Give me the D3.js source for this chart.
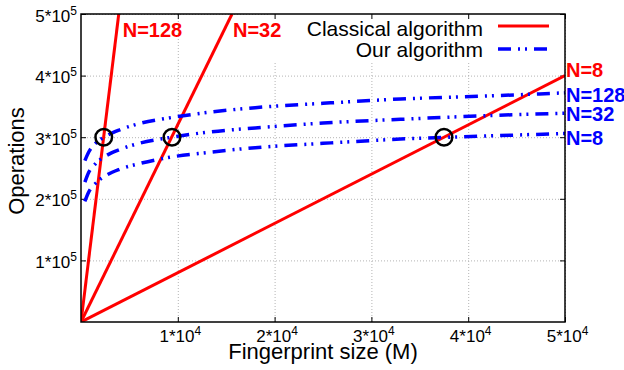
<!DOCTYPE html>
<html>
<head>
<meta charset="utf-8">
<script src="https://cdn.jsdelivr.net/npm/d3@7"></script>
<style>
  body { margin: 0; background: #fff; }
  svg { display: block; font-family: "Liberation Sans", Arial, Helvetica, sans-serif; }
</style>
</head>
<body>
<svg id="vis-svg"></svg>
<script>
const sizes   = [400, 800, 1500, 2500, 4000, 6000, 9000, 13000, 18000, 25000, 33000, 42000, 50000];
const ours128 = [262000, 276000, 290000, 301000, 312000, 322000, 331000, 340000, 348000, 355000, 362000, 367000, 372000];
const ours32  = [227000, 243000, 257000, 269000, 280000, 290000, 299000, 308000, 315000, 323000, 329000, 335000, 339000];
const ours8   = [196000, 211000, 225000, 237000, 248000, 257000, 267000, 275000, 283000, 290000, 297000, 302000, 306000];

// Classical algorithm: straight lines from the origin, end points where they leave the plot
const classicalNames  = ["N=128", "N=32", "N=8"];
const classicalEndM   = [3900, 15600, 50000];
const classicalEndOps = [500000, 500000, 400000];

// Circled crossing points
const crossM   = [2350, 9400, 37500];
const crossOps = [300000, 300000, 300000];

const xTickValues = [10000, 20000, 30000, 40000, 50000];
const yTickValues = [100000, 200000, 300000, 400000, 500000];

let margin = {top: 14, right: 59, bottom: 48, left: 81},
    width = 624 - margin.left - margin.right,
    height = 370 - margin.top - margin.bottom;

const red = "#ff0000", blue = "#0000ff";

const root = d3.select("#vis-svg")
    .attr("width", 624)
    .attr("height", 370);

const svg = root.append("g")
    .attr("transform", "translate(" + margin.left + "," + margin.top + ")");

const x = d3.scaleLinear().domain([0, 50000]).range([0, width]),
      y = d3.scaleLinear().domain([0, 500000]).range([height, 0]);

root.append("defs").append("clipPath")
    .attr("id", "plot-clip")
  .append("rect")
    .attr("width", width)
    .attr("height", height);

// Grid
svg.append("g")
    .attr("transform", "translate(0," + height + ")")
    .call(d3.axisBottom(x).tickValues(xTickValues).tickSize(-height).tickFormat(""))
    .call(g => g.select(".domain").remove())
    .selectAll("line")
    .attr("stroke", "#b4b4b4")
    .attr("stroke-dasharray", "1,2");

svg.append("g")
    .call(d3.axisLeft(y).tickValues(yTickValues).tickSize(-width).tickFormat(""))
    .call(g => g.select(".domain").remove())
    .selectAll("line")
    .attr("stroke", "#b4b4b4")
    .attr("stroke-dasharray", "1,2");

// Legend background hides the grid behind it
svg.append("rect")
    .attr("x", width - 296)
    .attr("y", 0)
    .attr("width", 296)
    .attr("height", 48)
    .attr("fill", "#fff");

// Ticks (inward, mirrored)
function supLabels(g, exp) {
    g.selectAll("text").each(function(d) {
        const t = d3.select(this).text(null);
        t.append("tspan").text((d / Math.pow(10, exp)) + "*10");
        t.append("tspan").attr("dy", "-7").attr("font-size", 12).text(exp);
    });
}

svg.append("g")
    .attr("transform", "translate(0," + height + ")")
    .call(d3.axisBottom(x).tickValues(xTickValues).tickSize(-5).tickPadding(8))
    .call(g => g.select(".domain").remove())
    .call(g => g.selectAll("text").attr("font-size", 17).attr("fill", "#000").attr("font-family", null).attr("dx", 2))
    .call(g => supLabels(g, 4));

svg.append("g")
    .call(d3.axisLeft(y).tickValues(yTickValues).tickSize(-5).tickPadding(4))
    .call(g => g.select(".domain").remove())
    .call(g => g.selectAll("text").attr("font-size", 17).attr("fill", "#000").attr("font-family", null).attr("dy", "0.42em"))
    .call(g => supLabels(g, 5));

svg.append("g")
    .call(d3.axisTop(x).tickValues(xTickValues).tickSize(-5).tickFormat(""))
    .call(g => g.select(".domain").remove());

svg.append("g")
    .attr("transform", "translate(" + width + ",0)")
    .call(d3.axisRight(y).tickValues(yTickValues).tickSize(-5).tickFormat(""))
    .call(g => g.select(".domain").remove());

// Classical algorithm lines
const plot = svg.append("g").attr("clip-path", "url(#plot-clip)");

plot.selectAll(".classical")
    .data(classicalEndM)
  .enter().append("line")
    .attr("class", "classical")
    .attr("x1", x(0))
    .attr("y1", y(0))
    .attr("x2", (d, i) => x(d))
    .attr("y2", (d, i) => y(classicalEndOps[i]))
    .attr("stroke", red)
    .attr("stroke-width", 3);

// Our algorithm curves
const oursSeries = [
    {name: "N=128", values: ours128, dy: 9},
    {name: "N=32", values: ours32, dy: 8},
    {name: "N=8", values: ours8, dy: 11}
];

const line = d3.line()
    .x((d, i) => x(sizes[i]))
    .y(d => y(d))
    .curve(d3.curveMonotoneX);

plot.selectAll(".ours")
    .data(oursSeries)
  .enter().append("path")
    .attr("class", "ours")
    .attr("d", d => line(d.values))
    .attr("fill", "none")
    .attr("stroke", blue)
    .attr("stroke-width", 3.5)
    .attr("stroke-dasharray", "13,7,2,5,2,7");

// Crossing circles
svg.selectAll(".cross")
    .data(crossM)
  .enter().append("circle")
    .attr("cx", d => x(d))
    .attr("cy", (d, i) => y(crossOps[i]))
    .attr("r", 8.3)
    .attr("fill", "none")
    .attr("stroke", "#000")
    .attr("stroke-width", 2.5);

// Border
svg.append("rect")
    .attr("width", width)
    .attr("height", height)
    .attr("fill", "none")
    .attr("stroke", "#000")
    .attr("stroke-width", 1.5);

// Line labels
const labelFont = 20;

svg.append("text")
    .attr("x", x(classicalEndM[0]) + 4)
    .attr("y", y(classicalEndOps[0]) + 23)
    .attr("font-size", labelFont).attr("font-weight", "bold").attr("fill", red)
    .text(classicalNames[0]);

svg.append("text")
    .attr("x", x(classicalEndM[1]) + 1)
    .attr("y", y(classicalEndOps[1]) + 23)
    .attr("font-size", labelFont).attr("font-weight", "bold").attr("fill", red)
    .text(classicalNames[1]);

svg.append("text")
    .attr("x", width + 1)
    .attr("y", y(classicalEndOps[2]) + 1)
    .attr("font-size", labelFont).attr("font-weight", "bold").attr("fill", red)
    .text(classicalNames[2]);

svg.selectAll(".ours-label")
    .data(oursSeries)
  .enter().append("text")
    .attr("x", width + 1)
    .attr("y", d => y(d.values[d.values.length - 1]) + d.dy)
    .attr("font-size", labelFont).attr("font-weight", "bold").attr("fill", blue)
    .text(d => d.name);

// Legend
const legend = svg.append("g").attr("transform", "translate(" + (width - 82) + ",0)");

legend.append("text").attr("x", 0).attr("y", 22).attr("text-anchor", "end")
    .attr("font-size", 21).text("Classical algorithm");
legend.append("text").attr("x", 0).attr("y", 43).attr("text-anchor", "end")
    .attr("font-size", 21).text("Our algorithm");

legend.append("line").attr("x1", 15).attr("x2", 66).attr("y1", 12).attr("y2", 12)
    .attr("stroke", red).attr("stroke-width", 3);
legend.append("line").attr("x1", 15).attr("x2", 66).attr("y1", 35).attr("y2", 35)
    .attr("stroke", blue).attr("stroke-width", 3.5).attr("stroke-dasharray", "13,7,2,5,2,7");

// Axis titles
svg.append("text")
    .attr("x", width / 2)
    .attr("y", height + 37)
    .attr("text-anchor", "middle")
    .attr("font-size", 22)
    .text("Fingerprint size (M)");

svg.append("text")
    .attr("transform", "rotate(-90)")
    .attr("x", -(height / 2) + 7)
    .attr("y", -57)
    .attr("text-anchor", "middle")
    .attr("font-size", 22)
    .text("Operations");
</script>
</body>
</html>
